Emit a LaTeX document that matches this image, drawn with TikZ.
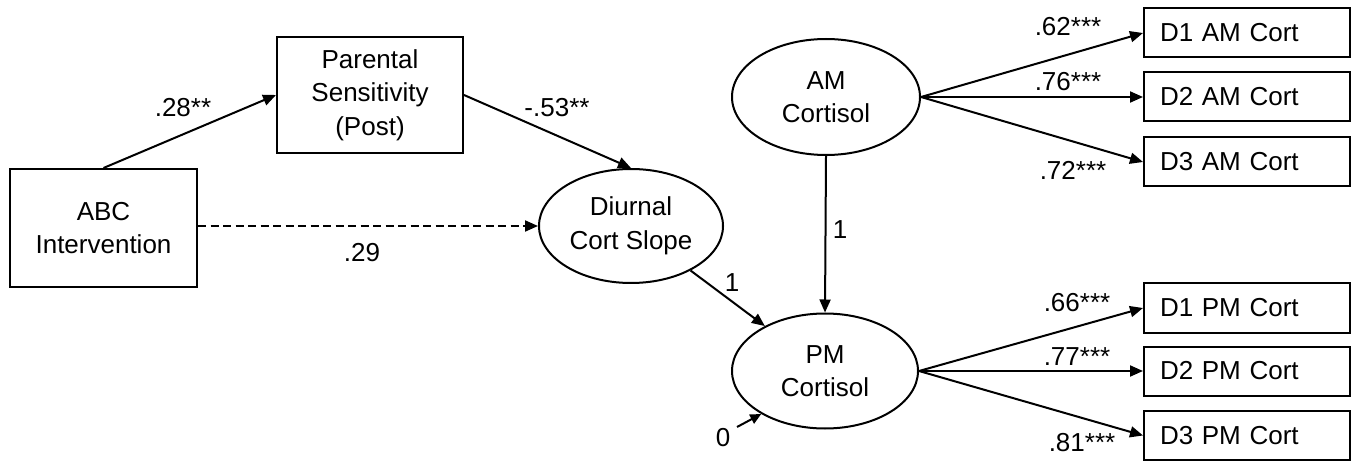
\documentclass[tikz,border=0pt]{standalone}
\usepackage{fontspec}
\setmainfont{Liberation Sans}
\usetikzlibrary{shapes.geometric,arrows.meta}
\begin{document}
\begin{tikzpicture}[x=1pt,y=-1pt,
  every node/.style={font=\fontsize{26}{33.5}\selectfont, inner sep=0pt},
  obsbox/.style={draw, rectangle, line width=2pt, align=center},
  latent/.style={draw, ellipse, line width=2pt, align=center},
  indbox/.style={draw, rectangle, line width=2pt, text width=174pt, align=left, inner xsep=16pt, minimum height=49pt},
  path/.style={line width=2pt, -{Triangle[length=13pt,width=11pt]}},
  dpath/.style={path, dash pattern=on 8pt off 4.5pt},
  lab/.style={inner sep=0pt}
]
\useasboundingbox (0,0) rectangle (1357,462);
\fill[white] (0,0) rectangle (1357,462);

% nodes
\node[obsbox, minimum width=187pt, minimum height=118pt] (abc) at (103.5,228) {ABC\\Intervention};
\node[obsbox, minimum width=186pt, minimum height=116pt] (par) at (370,95) {Parental\\Sensitivity\\(Post)};
\node[latent, minimum width=184pt, minimum height=114pt] (diu) at (631,226) {Diurnal\\Cort Slope};
\node[latent, minimum width=188pt, minimum height=116pt] (am) at (826,97) {AM\\Cortisol};
\node[latent, minimum width=186pt, minimum height=115pt] (pm) at (825,371) {PM\\Cortisol};

\node[indbox] (d1am) at (1247,33) {D1 AM Cort};
\node[indbox] (d2am) at (1247,97) {D2 AM Cort};
\node[indbox] (d3am) at (1247,162) {D3 AM Cort};
\node[indbox] (d1pm) at (1247,308) {D1 PM Cort};
\node[indbox] (d2pm) at (1247,371) {D2 PM Cort};
\node[indbox] (d3pm) at (1247,435.5) {D3 PM Cort};

% structural paths
\draw[path] (abc.north) -- (par.west);
\node[lab] (l28) at (183,108) {.28**};
\draw[path] (par.east) -- (diu.north);
\node[lab] (l53) at (557,108) {-.53**};
\draw[dpath] (abc.east |- diu.west) -- (diu.west);
\node[lab] (l29) at (362,253) {.29};
\draw[path] (diu) -- (pm);
\node[lab] (l1a) at (732,283) {1};
\draw[path] (am.south) -- (pm.north);
\node[lab] (l1b) at (840,230) {1};

% residual
\node[lab] (zero) at (723,438) {0};
\coordinate (ztail) at (737,427);
\draw[line width=2pt, -{Triangle[length=11pt,width=10pt]}] (ztail) -- (pm.214);

% loadings
\draw[path] (am.east) -- (d1am.west);
\draw[path] (am.east) -- (d2am.west);
\draw[path] (am.east) -- (d3am.west);
\node[lab] (l62) at (1068,27) {.62***};
\node[lab] (l76) at (1068,82) {.76***};
\node[lab] (l72) at (1073,170) {.72***};

\draw[path] (pm.east) -- (d1pm.west);
\draw[path] (pm.east) -- (d2pm.west);
\draw[path] (pm.east) -- (d3pm.west);
\node[lab] (l66) at (1077,303) {.66***};
\node[lab] (l77) at (1077,357) {.77***};
\node[lab] (l81) at (1082,443) {.81***};
\end{tikzpicture}
\end{document}
